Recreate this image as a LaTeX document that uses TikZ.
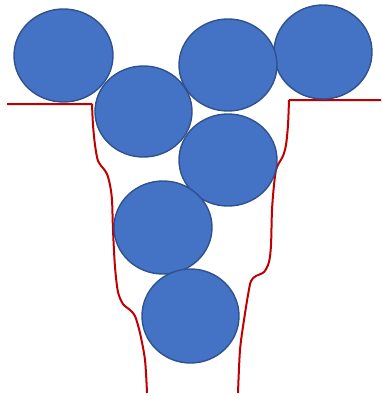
\documentclass[tikz,border=0pt]{standalone}
\begin{document}
\begin{tikzpicture}[x=1pt,y=-1pt,
  ball/.style={fill=ballblue,draw=balledge,line width=1.4pt},
  wall/.style={draw=wallred,line width=2pt,line join=round}]
\definecolor{ballblue}{HTML}{4472C4}
\definecolor{balledge}{HTML}{2F528F}
\definecolor{wallred}{HTML}{C00000}
\useasboundingbox (0,0) rectangle (381,396);
% walls
\draw[wall] (7,104) -- (92,104) plot[smooth,tension=0.5] coordinates {(92,104) (93,125) (95,145) (98,161) (103,168) (107,174) (110,185) (112,200) (113,230) (115,267) (118,292) (123,304) (130,310) (135,316) (140,333) (145,360) (147,393)};
\draw[wall] (381,100) -- (289,100) plot[smooth,tension=0.5] coordinates {(289,100) (288,125) (286,145) (283,156) (279,163) (276,170) (274,185) (272,210) (271,245) (269,262) (264,272) (256,276) (251,281) (248,295) (244,320) (240,350) (238,393)};
% balls
\path[ball] (63.5,55.5) ellipse [x radius=49.5, y radius=46.5];
\path[ball] (323,52) ellipse [x radius=49, y radius=47];
\path[ball] (143.5,111.5) ellipse [x radius=48.5, y radius=45.5];
\path[ball] (228,65) ellipse [x radius=49, y radius=46];
\path[ball] (228,160) ellipse [x radius=49, y radius=46];
\path[ball] (163,227.5) ellipse [x radius=49, y radius=46.5];
\path[ball] (190.5,316) ellipse [x radius=48.5, y radius=47];
\end{tikzpicture}
\end{document}
